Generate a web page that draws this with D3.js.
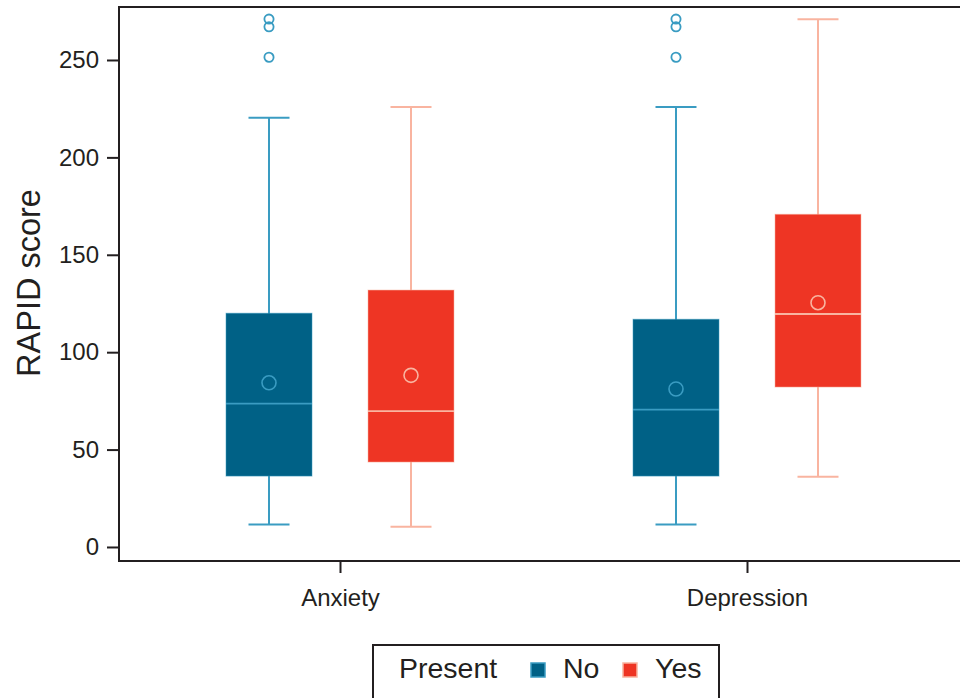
<!DOCTYPE html>
<html>
<head>
<meta charset="utf-8">
<script src="https://d3js.org/d3.v7.min.js"></script>
<style>
    body { margin: 0; background: #fff; }
    text { font-family: "Liberation Sans", Arial, sans-serif; fill: #231f20; }
</style>
</head>
<body>
<svg id="chart" width="960" height="698"></svg>
<script>
    // data
    var categories = ["Anxiety", "Depression"];
    var groups = ["No", "Yes"];
    var yTicks = [0, 50, 100, 150, 200, 250];
    // [lowWhisker, q1, median, q3, highWhisker, mean]
    var anxietyNo = [11.6, 36.4, 73.6, 120.0, 220.4, 84.3];
    var anxietyYes = [10.4, 43.6, 69.7, 131.9, 225.9, 88.1];
    var depressionNo = [11.6, 36.4, 70.5, 116.9, 225.9, 81.1];
    var depressionYes = [36.1, 82.1, 119.6, 170.8, 270.9, 125.4];
    var anxietyNoOutliers = [251.4, 267.0, 271.0];
    var depressionNoOutliers = [251.4, 267.0, 271.0];

    var boxes = [
        {cat: "Anxiety", grp: "No", v: anxietyNo, out: anxietyNoOutliers},
        {cat: "Anxiety", grp: "Yes", v: anxietyYes, out: []},
        {cat: "Depression", grp: "No", v: depressionNo, out: depressionNoOutliers},
        {cat: "Depression", grp: "Yes", v: depressionYes, out: []}
    ];

    var fill = {No: "#006186", Yes: "#ee3524"};
    var light = {No: "#3a9cc2", Yes: "#f9b4a0"};
    var ink = "#231f20";
    var font = "'Liberation Sans', Arial, sans-serif";

    var svg = d3.select("#chart");
    var width = +svg.attr("width");
    var margin = {top: 7, left: 119, bottom: 561};

    var y = d3.scaleLinear()
        .domain([-7.2, 277.2])
        .range([margin.bottom, margin.top]);
    var x = d3.scalePoint()
        .domain(categories)
        .range([margin.left, 968])
        .padding(0.543);
    var xSub = d3.scaleBand()
        .domain(groups)
        .range([-142, 142]);
    var boxW = 86, capW = 41;

    // frame
    svg.append("rect")
        .attr("x", margin.left)
        .attr("y", margin.top)
        .attr("width", width - margin.left + 10)
        .attr("height", margin.bottom - margin.top)
        .attr("fill", "none")
        .attr("stroke", ink)
        .attr("stroke-width", 2);

    var yAxis = svg.append("g")
        .attr("transform", `translate(${margin.left},0)`)
        .call(d3.axisLeft(y).tickValues(yTicks).tickSize(12).tickPadding(8));
    yAxis.select(".domain").remove();
    yAxis.selectAll("line").attr("stroke", ink).attr("stroke-width", 2);
    yAxis.selectAll("text").attr("fill", ink)
        .style("font-size", "24px").style("font-family", font);

    var xAxis = svg.append("g")
        .attr("transform", `translate(0,${margin.bottom})`)
        .call(d3.axisBottom(x).tickSize(12).tickPadding(16));
    xAxis.select(".domain").remove();
    xAxis.selectAll("line").attr("stroke", ink).attr("stroke-width", 2);
    xAxis.selectAll("text").attr("fill", ink)
        .style("font-size", "24px").style("font-family", font);

    svg.append("text")
        .attr("transform", "translate(40,283) rotate(-90)")
        .attr("text-anchor", "middle")
        .style("font-size", "32.5px")
        .text("RAPID score");

    var g = svg.append("g")
        .selectAll("g")
        .data(boxes)
        .join("g")
        .attr("transform", d => `translate(${x(d.cat) + xSub(d.grp) + xSub.bandwidth() / 2},0)`);

    // whiskers
    g.append("line")
        .attr("x1", 0).attr("x2", 0)
        .attr("y1", d => y(d.v[0])).attr("y2", d => y(d.v[4]))
        .attr("stroke", d => light[d.grp]).attr("stroke-width", 2);
    g.append("line")
        .attr("x1", -capW / 2).attr("x2", capW / 2)
        .attr("y1", d => y(d.v[0])).attr("y2", d => y(d.v[0]))
        .attr("stroke", d => light[d.grp]).attr("stroke-width", 2);
    g.append("line")
        .attr("x1", -capW / 2).attr("x2", capW / 2)
        .attr("y1", d => y(d.v[4])).attr("y2", d => y(d.v[4]))
        .attr("stroke", d => light[d.grp]).attr("stroke-width", 2);

    // box
    g.append("rect")
        .attr("x", -boxW / 2)
        .attr("width", boxW)
        .attr("y", d => y(d.v[3]))
        .attr("height", d => y(d.v[1]) - y(d.v[3]))
        .attr("fill", d => fill[d.grp])
        .attr("stroke", d => light[d.grp])
        .attr("stroke-opacity", 0.5)
        .attr("stroke-width", 1);

    // median
    g.append("line")
        .attr("x1", -boxW / 2).attr("x2", boxW / 2)
        .attr("y1", d => y(d.v[2])).attr("y2", d => y(d.v[2]))
        .attr("stroke", d => light[d.grp]).attr("stroke-width", 1.8);

    // mean
    g.append("circle")
        .attr("cx", 0)
        .attr("cy", d => y(d.v[5]))
        .attr("r", 7)
        .attr("fill", "none")
        .attr("stroke", d => light[d.grp])
        .attr("stroke-width", 1.6);

    // outliers
    g.selectAll("circle.out")
        .data(d => d.out.map(o => ({val: o, grp: d.grp})))
        .join("circle")
        .attr("class", "out")
        .attr("cx", 0)
        .attr("cy", d => y(d.val))
        .attr("r", 4.6)
        .attr("fill", "none")
        .attr("stroke", d => light[d.grp])
        .attr("stroke-width", 1.8);

    // legend
    var legend = svg.append("g").attr("transform", "translate(373,645)");
    legend.append("rect")
        .attr("width", 346).attr("height", 70)
        .attr("fill", "none").attr("stroke", ink).attr("stroke-width", 2);
    legend.append("text")
        .attr("x", 26).attr("y", 33)
        .style("font-size", "28.5px")
        .text("Present");
    var items = legend.selectAll("g.item")
        .data(groups)
        .join("g")
        .attr("class", "item")
        .attr("transform", (d, i) => `translate(${158 + i * 92},0)`);
    items.append("rect")
        .attr("x", 0).attr("y", 18)
        .attr("width", 14).attr("height", 14)
        .attr("fill", d => fill[d])
        .attr("stroke", d => light[d])
        .attr("stroke-width", 1.5);
    items.append("text")
        .attr("x", 32).attr("y", 33)
        .style("font-size", "28.5px")
        .text(d => d);
</script>
</body>
</html>
